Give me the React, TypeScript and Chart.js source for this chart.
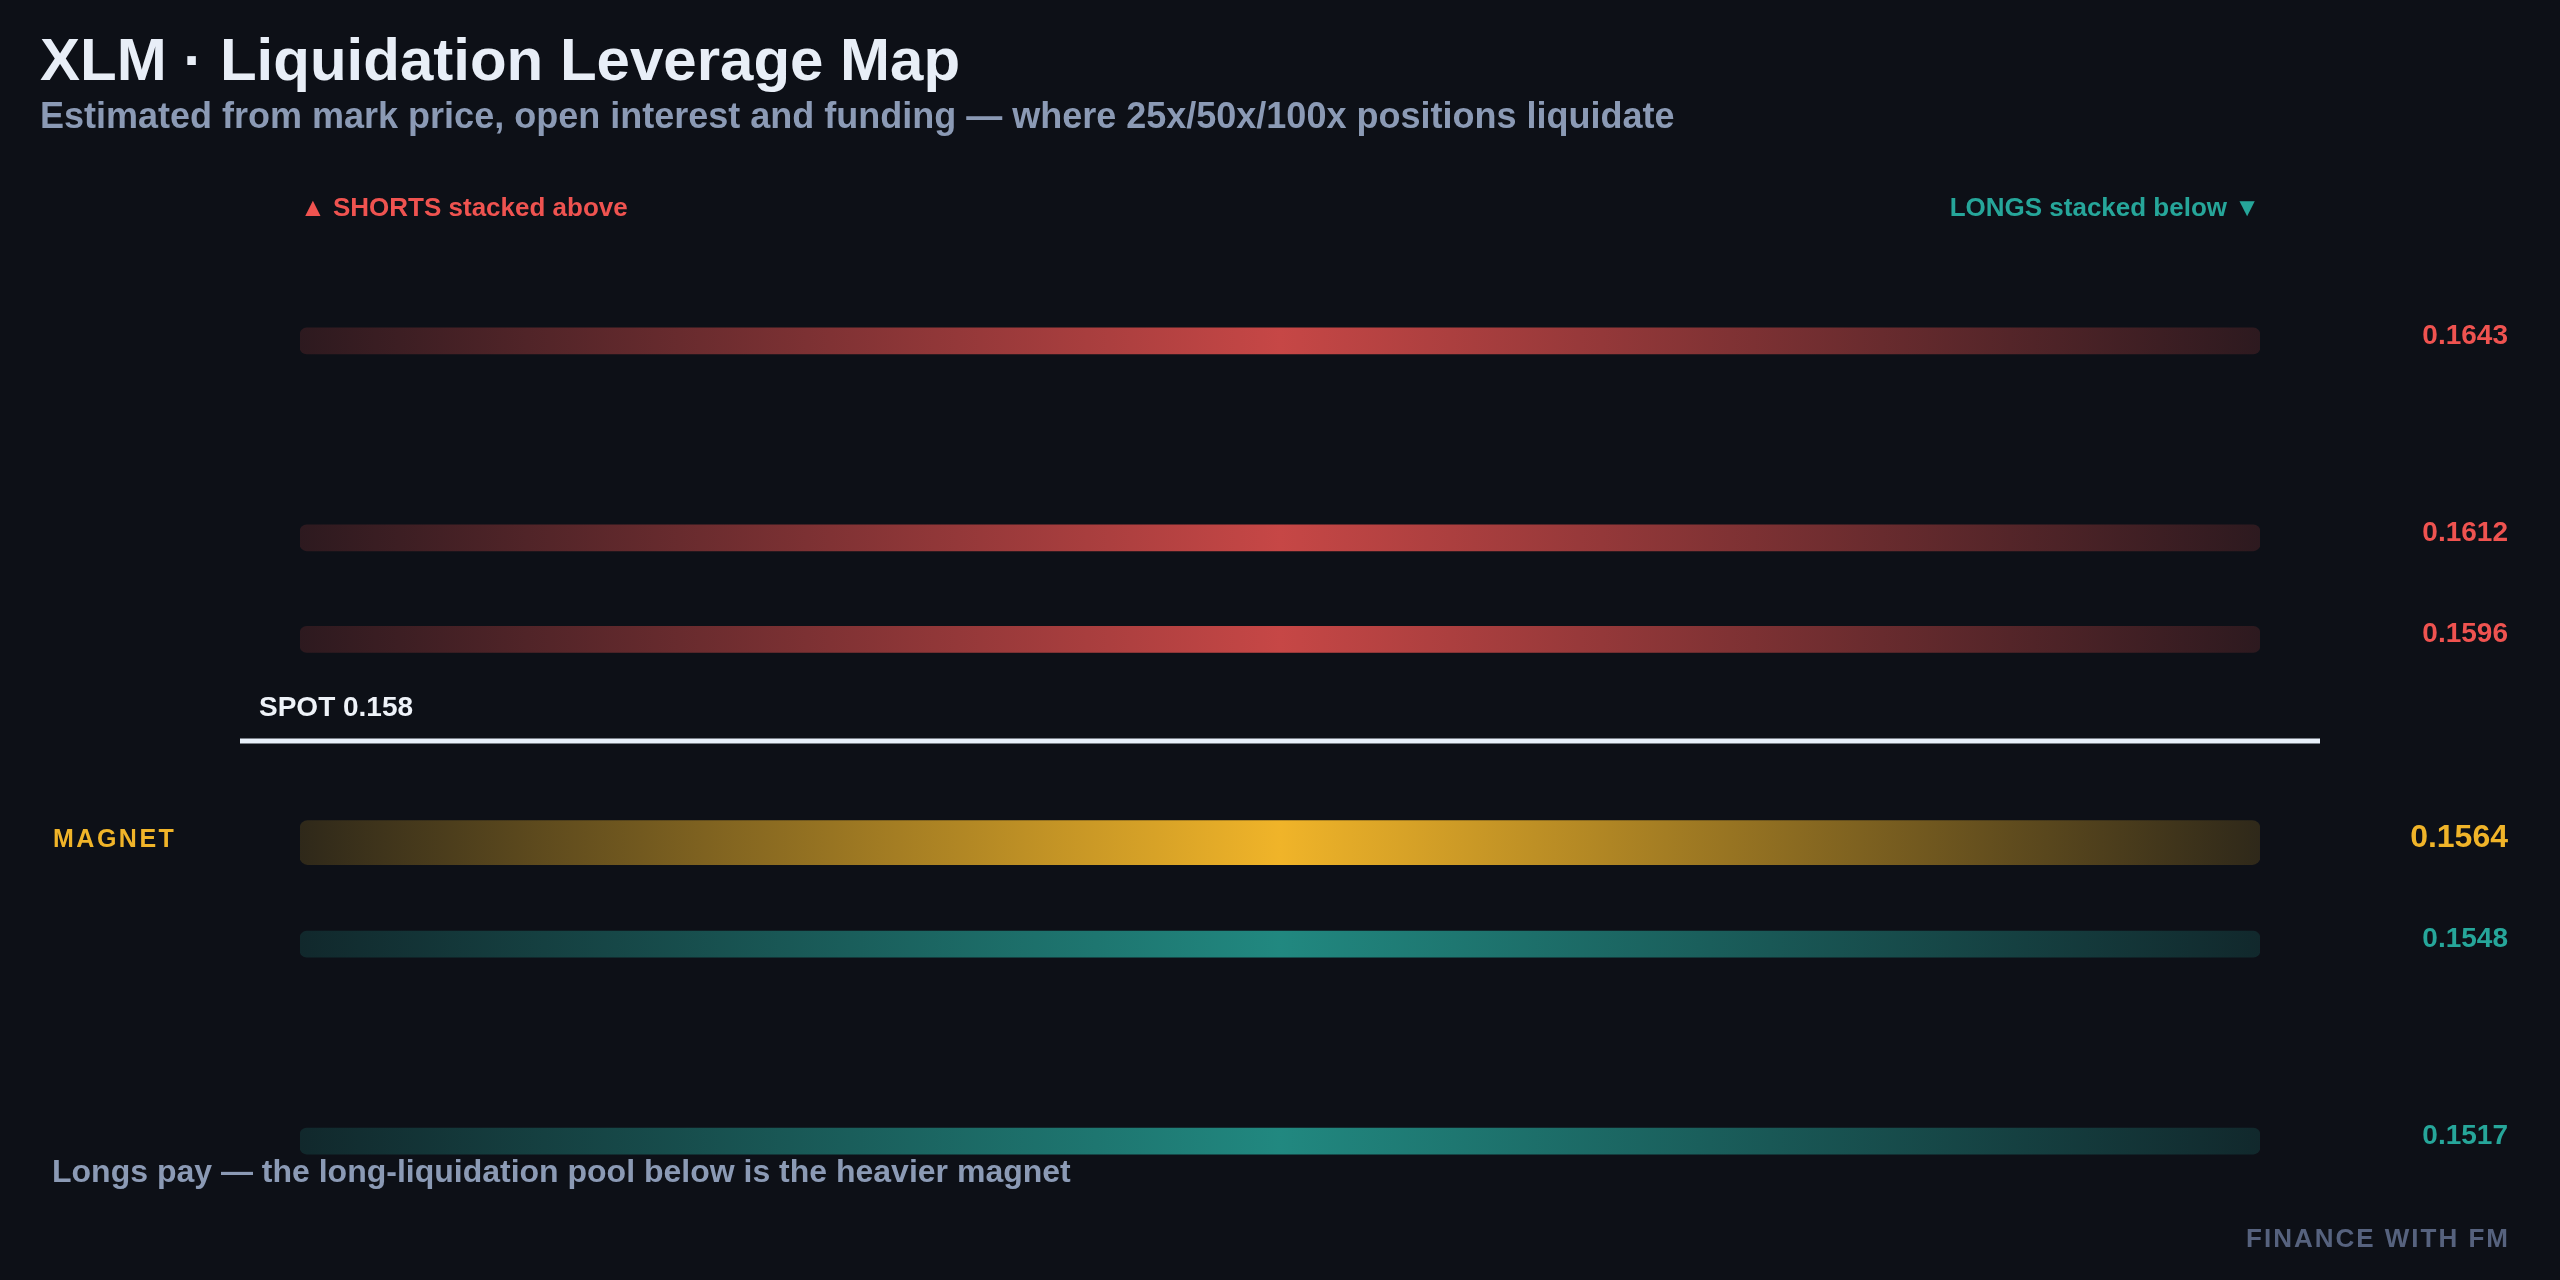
import React, { useEffect, useRef } from 'react';
import { Chart, registerables } from 'chart.js';

Chart.register(...registerables);

// ---- data ----
const TITLE = 'XLM · Liquidation Leverage Map';
const SUBTITLE = 'Estimated from mark price, open interest and funding — where 25x/50x/100x positions liquidate';
const SHORT_HEADER = '▲ SHORTS stacked above';
const LONG_HEADER = 'LONGS stacked below ▼';
const SHORT_LEVELS = [0.1643, 0.1612, 0.1596];
const MAGNET_LEVELS = [0.1564];
const LONG_LEVELS = [0.1548, 0.1517];
const SPOT = 0.158;
const SPOT_LABEL = 'SPOT';
const MAGNET_LABEL = 'MAGNET';
const FOOTNOTE = 'Longs pay — the long-liquidation pool below is the heavier magnet';
const BRAND = 'FINANCE WITH FM';
const BAR_EXTENT = 1;
const PRICE_MIN = 0.15;
const PRICE_MAX = 0.166;

// ---- style ----
const BG = '#0d1017';
const FONT = '"Liberation Sans", Arial, Helvetica, sans-serif';
const RED = '#ef5350';
const TEAL = '#26a69a';
const GOLD = '#f0b429';
const TITLE_C = '#e8eef7';
const MUTED = '#8b9ab5';
const BRAND_C = '#56627e';

const makeGrad = (rgb: string, edge: number, center: number) => (ctx: any) => {
  const ca = ctx.chart.chartArea;
  if (!ca) return `rgba(${rgb},${center})`;
  const g = ctx.chart.ctx.createLinearGradient(ca.left, 0, ca.right, 0);
  g.addColorStop(0, `rgba(${rgb},${edge})`);
  g.addColorStop(0.5, `rgba(${rgb},${center})`);
  g.addColorStop(1, `rgba(${rgb},${edge})`);
  return g;
};

const overlay = {
  id: 'overlay',
  beforeDraw(chart: any) {
    const c = chart.ctx;
    c.save();
    c.fillStyle = BG;
    c.fillRect(0, 0, chart.width, chart.height);
    c.restore();
  },
  afterDatasetsDraw(chart: any) {
    const c = chart.ctx;
    const ca = chart.chartArea;
    const ys = chart.scales.y;
    const W = chart.width;
    c.save();
    c.textBaseline = 'alphabetic';
    c.textAlign = 'left';
    c.letterSpacing = '0px';

    c.fillStyle = TITLE_C;
    c.font = `bold 60px ${FONT}`;
    c.fillText(TITLE, 40, 80);
    c.fillStyle = MUTED;
    c.font = `bold 36px ${FONT}`;
    c.fillText(SUBTITLE, 40, 128);

    c.font = `bold 26px ${FONT}`;
    c.fillStyle = RED;
    c.fillText(SHORT_HEADER, ca.left, 216);
    c.textAlign = 'right';
    c.fillStyle = TEAL;
    c.fillText(LONG_HEADER, ca.right, 216);

    // spot line
    const sy = ys.getPixelForValue(SPOT);
    c.strokeStyle = '#e8f0fa';
    c.lineWidth = 5;
    c.lineCap = 'butt';
    c.beginPath();
    c.moveTo(ca.left - 60, sy);
    c.lineTo(ca.right + 60, sy);
    c.stroke();
    c.textAlign = 'left';
    c.fillStyle = '#eef2f8';
    c.font = `bold 28px ${FONT}`;
    c.fillText(`${SPOT_LABEL} ${SPOT}`, ca.left - 41, sy - 25);

    // value labels
    c.textAlign = 'right';
    c.font = `bold 28px ${FONT}`;
    c.fillStyle = RED;
    SHORT_LEVELS.forEach((p) => c.fillText(p.toFixed(4), W - 52, ys.getPixelForValue(p) + 3));
    c.fillStyle = TEAL;
    LONG_LEVELS.forEach((p) => c.fillText(p.toFixed(4), W - 52, ys.getPixelForValue(p) + 3));
    c.fillStyle = GOLD;
    MAGNET_LEVELS.forEach((p) => {
      const py = ys.getPixelForValue(p);
      c.textAlign = 'right';
      c.letterSpacing = '0px';
      c.font = `bold 32px ${FONT}`;
      c.fillText(p.toFixed(4), W - 52, py + 4);
      c.textAlign = 'left';
      c.font = `bold 25px ${FONT}`;
      c.letterSpacing = '2.5px';
      c.fillText(MAGNET_LABEL, 53, py + 4);
    });

    // footnote + brand
    c.letterSpacing = '0px';
    c.textAlign = 'left';
    c.fillStyle = MUTED;
    c.font = `bold 32px ${FONT}`;
    c.fillText(FOOTNOTE, 52, 1182);
    c.textAlign = 'right';
    c.fillStyle = BRAND_C;
    c.font = `bold 26px ${FONT}`;
    c.letterSpacing = '2px';
    c.fillText(BRAND, W - 52 + 2, 1247);
    c.letterSpacing = '0px';
    c.restore();
  },
};

export default function App() {
  const ref = useRef<HTMLCanvasElement>(null);
  useEffect(() => {
    const chart = new Chart(ref.current as HTMLCanvasElement, {
      type: 'bar',
      data: {
        datasets: [
          {
            label: 'Shorts',
            data: SHORT_LEVELS.map((p) => ({ x: BAR_EXTENT, y: p })),
            backgroundColor: makeGrad('239,83,80', 0.14, 0.82),
            barThickness: 26,
            borderRadius: 7,
            borderSkipped: false,
            grouped: false,
          } as any,
          {
            label: 'Longs',
            data: LONG_LEVELS.map((p) => ({ x: BAR_EXTENT, y: p })),
            backgroundColor: makeGrad('38,166,154', 0.16, 0.8),
            barThickness: 26,
            borderRadius: 7,
            borderSkipped: false,
            grouped: false,
          } as any,
          {
            label: 'Magnet',
            data: MAGNET_LEVELS.map((p) => ({ x: BAR_EXTENT, y: p })),
            backgroundColor: makeGrad('240,180,41', 0.15, 1),
            barThickness: 44,
            borderRadius: 8,
            borderSkipped: false,
            grouped: false,
          } as any,
        ],
      },
      options: {
        indexAxis: 'y',
        animation: false,
        responsive: false,
        devicePixelRatio: 1,
        layout: { padding: { left: 300, right: 300, top: 233, bottom: 31 } },
        scales: {
          x: { type: 'linear', min: 0, max: BAR_EXTENT, display: false, offset: false },
          y: { type: 'linear', min: PRICE_MIN, max: PRICE_MAX, display: false, offset: false, grace: 0 },
        },
        plugins: { legend: { display: false }, tooltip: { enabled: false }, title: { display: false } },
      } as any,
      plugins: [overlay],
    });
    return () => chart.destroy();
  }, []);
  return (
    <div style={{ position: 'fixed', left: 0, top: 0, width: 2560, height: 1280, background: BG }}>
      <canvas ref={ref} width={2560} height={1280} style={{ display: 'block', width: 2560, height: 1280 }} />
    </div>
  );
}
